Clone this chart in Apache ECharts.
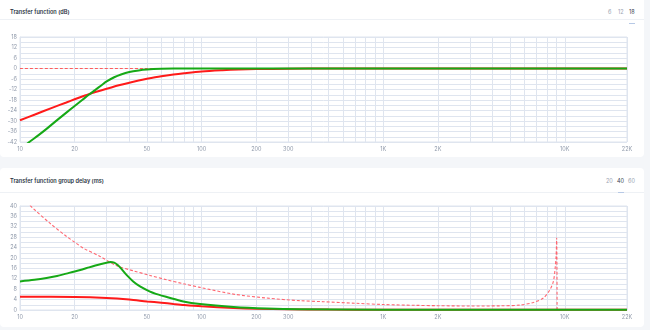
<!DOCTYPE html>
<html>
<head>
<meta charset="utf-8">
<script src="https://cdn.jsdelivr.net/npm/echarts@6/dist/echarts.min.js"></script>
<style>
  html, body { margin: 0; padding: 0; width: 650px; height: 330px; background: #f4f6f9; overflow: hidden; font-family: Inter, "Noto Sans", sans-serif; }
  .card { position: absolute; left: 0; width: 644px; background: #fff; border-radius: 4px; }
  .hdr { position: absolute; left: 0; right: 0; top: 0; height: 24px; border-bottom: 1px solid #eef1f5; }
  .ttl { position: absolute; left: 10px; font-size: 5.6px; font-weight: 600; color: #2b3442; }
  .sel { position: absolute; font-size: 5.5px; color: #9aa3b2; }
  .sel.on { color: #3a4250; }
  .ul { position: absolute; height: 1px; width: 6px; background: #b7c9e6; }
  #chart { position: absolute; left: 0; top: 0; width: 650px; height: 330px; }
</style>
</head>
<body>
<div class="card" style="top:-4px;height:161px;">
  <div class="hdr" style="top:4px;height:19px;"></div>
  <div class="ttl" style="top:13px;">Transfer function (dB)</div>
  <div class="sel" style="left:608px;top:13px;">6</div>
  <div class="sel" style="left:618px;top:13px;">12</div>
  <div class="sel on" style="left:629px;top:13px;">18</div>
  <div class="ul" style="left:629px;top:27px;"></div>
</div>
<div class="card" style="top:168px;height:159px;">
  <div class="hdr" style="height:24px;"></div>
  <div class="ttl" style="top:10px;">Transfer function group delay (ms)</div>
  <div class="sel" style="left:606px;top:10px;">20</div>
  <div class="sel on" style="left:617px;top:10px;">40</div>
  <div class="sel" style="left:628px;top:10px;">60</div>
  <div class="ul" style="left:618px;top:24px;"></div>
</div>
<div id="chart"></div>
<script>
// ---- data ----
const xTickValues = [10,20,30,40,50,60,70,80,90,100,200,300,400,500,600,700,800,900,1000,2000,3000,4000,5000,6000,7000,8000,9000,10000,22000];
const xLabelValues = [10,20,50,100,200,300,1000,2000,10000,22000];

// Transfer function (dB)
const tfRefFreq = [10, 22000];
const tfRefDb = [0, 0];
const tfRedFreq = [10, 12, 15, 18, 20, 23, 26, 30, 35, 40, 45, 50, 60, 70, 80, 100, 130, 160, 200, 300, 500, 22000];
const tfRedDb = [-29.6, -26.4, -22.5, -19.4, -17.6, -15.3, -13.4, -11.6, -9.6, -8.1, -6.9, -5.9, -4.4, -3.4, -2.7, -1.7, -1.0, -0.6, -0.35, -0.12, 0, 0];
const tfGreenFreq = [10, 11.25, 12.5, 14, 16, 18, 20, 22, 24, 26, 28, 30, 33, 36, 40, 45, 50, 60, 70, 100, 22000];
const tfGreenDb = [-46.5, -42, -38.5, -34.5, -29.5, -25.2, -21.4, -18.0, -14.9, -12.2, -9.7, -7.4, -5.0, -3.4, -2.0, -1.1, -0.6, -0.2, -0.07, 0, 0];

// Group delay (ms)
const gdRefFreq = [10, 11.25, 11.8, 14.6, 18.1, 20, 22.3, 27.6, 34.1, 42, 52, 64.3, 79.3, 98, 150, 228, 346, 466, 700, 1000, 1500, 2000, 3000, 4400, 5660, 6710, 7620, 8280, 8650, 8830, 8950, 9020, 9070];
const gdRefMs = [44.5, 40.5, 39.1, 33.4, 28.2, 26.1, 23.8, 20.6, 17.0, 15.1, 13.3, 11.6, 10.1, 8.7, 6.1, 4.6, 3.6, 3.2, 2.6, 2.1, 1.8, 1.65, 1.55, 1.6, 1.9, 2.9, 4.6, 7.8, 11, 15.5, 20.6, 27.7, -3];
const gdRedFreq = [10, 20, 30, 40, 50, 60, 70, 80, 100, 150, 200, 300, 500, 1000, 22000];
const gdRedMs = [5.1, 5.0, 4.6, 4.0, 3.3, 2.8, 2.3, 1.9, 1.4, 0.8, 0.5, 0.3, 0.15, 0.1, 0.05];
const gdGreenFreq = [10, 12, 14, 16, 18, 20, 22, 24, 26, 28, 30, 31.5, 33, 34.5, 36, 38.6, 42, 45.8, 52, 58, 64.3, 79.3, 98, 150, 228, 346, 1000, 22000];
const gdGreenMs = [11.0, 11.6, 12.3, 13.1, 14.0, 14.8, 15.6, 16.4, 17.1, 17.7, 18.2, 18.45, 18.2, 17.3, 16.0, 13.5, 11.0, 9.1, 7.1, 5.9, 5.0, 3.3, 2.3, 1.2, 0.6, 0.3, 0.1, 0.05];

const zip = (a, b) => a.map((v, i) => [v, b[i]]);

const gridColor = '#dfe5ef';
const labelColor = '#8f99aa';
const fmtHz = v => v >= 1000 ? (v / 1000) + 'K' : String(v);

function xAxis(gi) {
  return {
    type: 'log', logBase: 10, min: 10, max: 22000, gridIndex: gi,
    axisLine: { show: true, lineStyle: { color: gridColor } },
    axisTick: { show: false, customValues: xTickValues },
    axisLabel: { customValues: xLabelValues, formatter: fmtHz, fontSize: 5.5, color: labelColor, margin: 4, fontFamily: 'Inter' },
    splitLine: { show: true, lineStyle: { color: gridColor, width: 1 } }
  };
}
function yAxis(gi, min, max, interval, labelEvery) {
  return {
    type: 'value', gridIndex: gi, min, max, interval,
    axisLine: { show: true, lineStyle: { color: gridColor } },
    axisTick: { show: false },
    axisLabel: { fontSize: 5.5, color: labelColor, margin: 3, fontFamily: 'Inter',
      formatter: v => (Math.round(v) % labelEvery === 0) ? String(v) : '' },
    splitLine: { show: true, lineStyle: { color: gridColor, width: 1 } }
  };
}
const solid = (gi, data, color) => ({
  type: 'line', xAxisIndex: gi, yAxisIndex: gi, data, showSymbol: false, smooth: 0.3, clip: true,
  lineStyle: { color, width: 2 }, z: 3
});
const dashed = (gi, data, color) => ({
  type: 'line', xAxisIndex: gi, yAxisIndex: gi, data, showSymbol: false, smooth: 0.3, clip: true,
  lineStyle: { color, width: 1.1, type: [3, 2] }, z: 2
});

const chart = echarts.init(document.getElementById('chart'), null, { renderer: 'canvas' });
chart.setOption({
  animation: false,
  backgroundColor: 'transparent',
  grid: [
    { left: 20, right: 23, top: 37, height: 105, show: true, borderColor: gridColor, borderWidth: 1 },
    { left: 20, right: 23, top: 206, height: 104, show: true, borderColor: gridColor, borderWidth: 1 }
  ],
  xAxis: [xAxis(0), xAxis(1)],
  yAxis: [yAxis(0, -42, 18, 3, 6), yAxis(1, 0, 40, 2, 4)],
  series: [
    dashed(0, zip(tfRefFreq, tfRefDb), '#ff5c5c'),
    solid(0, zip(tfRedFreq, tfRedDb), '#ff1a1a'),
    solid(0, zip(tfGreenFreq, tfGreenDb), '#16a916'),
    dashed(1, zip(gdRefFreq, gdRefMs), '#ff6670'),
    solid(1, zip(gdRedFreq, gdRedMs), '#ff1a1a'),
    solid(1, zip(gdGreenFreq, gdGreenMs), '#16a916')
  ]
});
</script>
</body>
</html>
